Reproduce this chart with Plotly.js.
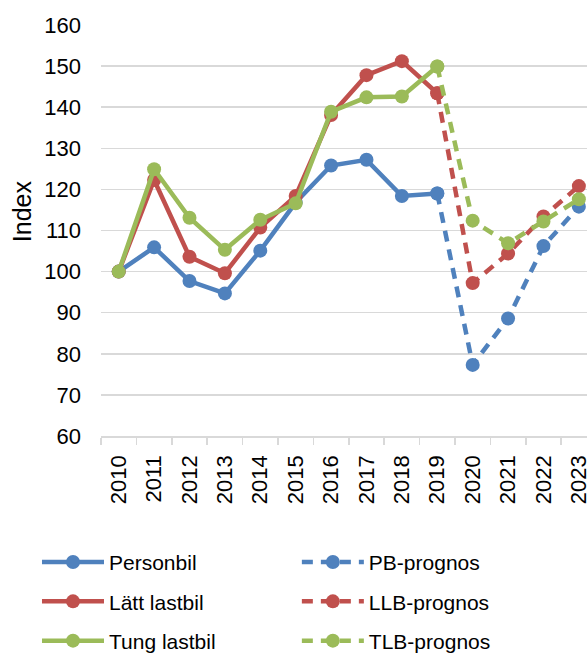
<!DOCTYPE html>
<html>
<head>
<meta charset="utf-8">
<script src="https://cdn.plot.ly/plotly-3.0.1.min.js"></script>
<style>html,body{margin:0;padding:0;background:#fff;overflow:hidden;}</style>
</head>
<body>
<div id="chart" style="width:587px;height:655px;"></div>
<script>
const years = ["2010","2011","2012","2013","2014","2015","2016","2017","2018","2019","2020","2021","2022","2023"];

const personbil   = [100, 105.9, 97.7, 94.7, 105.1, 116.8, 125.8, 127.2, 118.4, 119.0, null, null, null, null];
const lattLastbil = [100, 122.3, 103.6, 99.6, 110.7, 118.4, 138.1, 147.8, 151.2, 143.4, null, null, null, null];
const tungLastbil = [100, 124.9, 113.1, 105.3, 112.6, 116.6, 138.9, 142.4, 142.6, 149.9, null, null, null, null];

const pbPrognos  = [null, null, null, null, null, null, null, null, null, 119.0, 77.3, 88.6, 106.2, 115.8];
const llbPrognos = [null, null, null, null, null, null, null, null, null, 143.4, 97.2, 104.4, 113.4, 120.8];
const tlbPrognos = [null, null, null, null, null, null, null, null, null, 149.9, 112.4, 106.9, 112.2, 117.6];

const names = ["Personbil", "Lätt lastbil", "Tung lastbil", "PB-prognos", "LLB-prognos", "TLB-prognos"];
const colors = ["#4F81BD", "#C0504D", "#9BBB59"];

const FONT = "Liberation Sans, Arial, sans-serif";

function mk(y, name, color, dashed, legendId, grp) {
  return {
    x: years, y: y, name: name, type: "scatter", mode: "lines+markers",
    connectgaps: false, cliponaxis: false,
    line: {color: color, width: 4.5, dash: dashed ? "11px,8px" : "solid"},
    marker: {color: color, size: 14},
    legend: legendId, legendgroup: grp
  };
}

const data = [
  mk(personbil,   names[0], colors[0], false, "legend", "g1"),
  mk(lattLastbil, names[1], colors[1], false, "legend", "g2"),
  mk(tungLastbil, names[2], colors[2], false, "legend", "g3"),
  mk(pbPrognos,   names[3], colors[0], true, "legend2", "g4"),
  mk(llbPrognos,  names[4], colors[1], true, "legend2", "g5"),
  mk(tlbPrognos,  names[5], colors[2], true, "legend2", "g6")
];

const layout = {
  width: 587, height: 655, autosize: false,
  margin: {l: 101, r: 0, t: 25, b: 219, autoexpand: false},
  paper_bgcolor: "#fff", plot_bgcolor: "#fff",
  font: {family: FONT, color: "#000", size: 22},
  showlegend: true,
  xaxis: {
    type: "category", range: [-0.5, 13.23],
    showgrid: false, zeroline: false,
    showline: true, linecolor: "#D9D9D9", linewidth: 1.5,
    ticks: "outside", tickson: "boundaries", ticklen: 7, tickwidth: 1.5, tickcolor: "#D9D9D9",
    tickangle: -90, tickfont: {size: 22, family: FONT, color: "#000"},
    ticklabelstandoff: 9, fixedrange: true
  },
  yaxis: {
    range: [60, 160], dtick: 10, tick0: 60,
    showgrid: true, gridcolor: "#D9D9D9", gridwidth: 1.5,
    zeroline: false, showline: false, ticks: "",
    tickfont: {size: 22, family: FONT, color: "#000"},
    ticklabelstandoff: 19, fixedrange: true
  },
  annotations: [{
    text: "Index", xref: "paper", yref: "paper", x: -0.1626, y: 0.547,
    xanchor: "center", yanchor: "middle", textangle: -90, showarrow: false,
    font: {size: 25, family: FONT, color: "#000"}
  }],
  legend: {
    x: -0.1317, xanchor: "left", y: -0.2577, yanchor: "top",
    font: {size: 21, family: FONT, color: "#000"},
    itemwidth: 62, tracegroupgap: 9, traceorder: "grouped",
    bgcolor: "rgba(0,0,0,0)", borderwidth: 0, orientation: "v"
  },
  legend2: {
    x: 0.403, xanchor: "left", y: -0.2577, yanchor: "top",
    font: {size: 21, family: FONT, color: "#000"},
    itemwidth: 62, tracegroupgap: 9, traceorder: "grouped",
    bgcolor: "rgba(0,0,0,0)", borderwidth: 0, orientation: "v"
  }
};

Plotly.newPlot("chart", data, layout, {displayModeBar: false, staticPlot: true});
</script>
</body>
</html>
